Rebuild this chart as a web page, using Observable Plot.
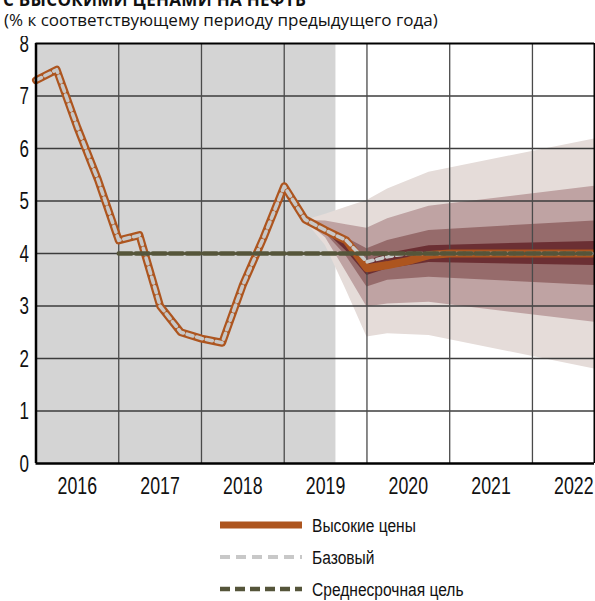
<!DOCTYPE html>
<html>
<head>
<meta charset="utf-8">
<script src="https://cdn.jsdelivr.net/npm/d3@7"></script>
<script src="https://cdn.jsdelivr.net/npm/@observablehq/plot@0.6"></script>
<style>
  html, body { margin: 0; padding: 0; background: #fff; }
  body { width: 595px; height: 601px; overflow: hidden; position: relative; }
  #head { position: absolute; left: 0; top: 0; }
  #chart { position: absolute; left: 0; top: 36px; }
  #legend { position: absolute; left: 0; top: 505px; }
</style>
</head>
<body>
<svg id="head" width="595" height="34"></svg>
<div id="chart"></div>
<svg id="legend" width="595" height="96"></svg>
<script>
// ---- data ----
const titleText = "С ВЫСОКИМИ ЦЕНАМИ НА НЕФТЬ";
const subtitleText = "(% к соответствующему периоду предыдущего года)";
const years = [2016, 2017, 2018, 2019, 2020, 2021, 2022];
const yTicks = [0, 1, 2, 3, 4, 5, 6, 7, 8];
const yearBounds = [4, 8, 12, 16, 20, 24];   // quarter index of Q1 of each year
const historyEnd = 14.5;                     // end of shaded actual-data period (quarter index)

// quarterly values, quarter index 0 = Q1 2016
const history = [7.3, 7.5, 6.4, 5.4, 4.25, 4.35, 3.0, 2.5, 2.38, 2.3, 3.4, 4.3, 5.28, 4.65, 4.44, 4.25];
const highPrices = [3.72, 3.78, 3.86, 3.97, 4.0, 4.0, 4.0, 4.0, 4.0, 4.0, 4.0, 4.0];   // k = 16..27
const baseline   = [3.84, 3.94, 4.0, 4.0, 4.0, 4.0, 4.0, 4.0, 4.0, 4.0, 4.0, 4.0];     // k = 16..27
const target = 4;
const targetStart = 4;

// fan chart: band boundaries at quarter indices
const fanK = [13, 14, 15, 16, 17, 19, 27];
const band4Hi = [4.63, 4.75, 4.88, 5.01, 5.23, 5.55, 6.18];
const band4Lo = [4.63, 4.15, 3.30, 2.41, 2.47, 2.44, 1.80];
const band3Hi = [4.63, 4.62, 4.55, 4.48, 4.66, 4.90, 5.28];
const band3Lo = [4.63, 4.30, 3.65, 2.98, 3.04, 3.07, 2.69];
const band2Hi = [4.63, 4.50, 4.30, 4.09, 4.25, 4.44, 4.62];
const band2Lo = [4.63, 4.38, 3.95, 3.36, 3.49, 3.55, 3.39];
const band1Hi = [4.63, 4.46, 4.20, 3.85, 4.00, 4.15, 4.23];
const band1Lo = [4.63, 4.42, 4.05, 3.58, 3.71, 3.83, 3.77];

const legendItems = ["Высокие цены", "Базовый", "Среднесрочная цель"];

// ---- colors ----
const cOrange = "#ad551f", cBase = "#c8c8c8", cTarget = "#55553a";
const bandColors = ["#6b2f33", "#966b6b", "#bfa3a3", "#e5dcd9"];

// ---- build tables ----
const nHist = history.length;
const highSeries = history.map((v, k) => ({k, v})).concat(highPrices.map((v, i) => ({k: nHist + i, v})));
const baseSeries = history.map((v, k) => ({k, v})).concat(baseline.map((v, i) => ({k: nHist + i, v})));
const lastK = highSeries[highSeries.length - 1].k;
const targetSeries = [{k: targetStart, v: target}, {k: lastK, v: target}];
const bands = [
  [band4Lo, band4Hi, bandColors[3]],
  [band3Lo, band3Hi, bandColors[2]],
  [band2Lo, band2Hi, bandColors[1]],
  [band1Lo, band1Hi, bandColors[0]]
];
const fanMarks = bands.map(([lo, hi, color]) =>
  Plot.areaY(fanK.map((k, i) => ({k, lo: lo[i], hi: hi[i]})), {x: "k", y1: "lo", y2: "hi", fill: color})
);
const yearRows = years.map((y, i) => ({label: String(y), k: i * 4 + 2}));

const font = "'Liberation Sans', Arial, sans-serif";

// horizontally condense svg texts (no condensed font installed)
function squeeze(root, sx) {
  root.querySelectorAll("text").forEach(t => {
    const tr = t.getAttribute("transform");
    if (tr) {
      t.setAttribute("transform", `${tr} scale(${sx},1)`);
    } else {
      const x = +t.getAttribute("x") || 0, y = +t.getAttribute("y") || 0;
      t.setAttribute("x", 0); t.setAttribute("y", 0);
      t.setAttribute("transform", `translate(${x},${y}) scale(${sx},1)`);
    }
  });
}

const chart = Plot.plot({
  width: 595,
  height: 469,
  marginTop: 7,
  marginLeft: 35.5,
  marginRight: 1,
  marginBottom: 42,
  x: {domain: [0, lastK], axis: null},
  y: {domain: [0, 8], axis: null},
  style: {fontFamily: font, background: "white", color: "#111"},
  marks: [
    Plot.rect([{a: 0, b: historyEnd}], {x1: "a", x2: "b", y1: 0, y2: 8, fill: "#d4d4d4"}),
    ...fanMarks,
    Plot.ruleY(yTicks.filter(d => d > 0 && d < 8), {stroke: "#3c3c3c", strokeWidth: 1.3}),
    Plot.ruleX(yearBounds, {stroke: "#4a4a4a", strokeWidth: 1.3}),
    Plot.line(highSeries, {x: "k", y: "v", stroke: cOrange, strokeWidth: 8, strokeLinejoin: "round"}),
    Plot.line(baseSeries, {x: "k", y: "v", stroke: cBase, strokeWidth: 3.6, strokeDasharray: "6,4", strokeLinejoin: "round"}),
    Plot.line(targetSeries, {x: "k", y: "v", stroke: cTarget, strokeWidth: 4.5, strokeDasharray: "13,4"}),
    Plot.ruleY([0], {stroke: "#000", strokeWidth: 2.5}),
    Plot.ruleY([8], {stroke: "#000", strokeWidth: 2}),
    Plot.ruleX([0], {stroke: "#000", strokeWidth: 2.5}),
    Plot.ruleX([lastK], {stroke: "#000", strokeWidth: 2}),
    Plot.text(yTicks, {x: 0, y: d => d, text: d => String(d), dx: -7, dy: 1, textAnchor: "end", fontSize: 23, fill: "#111"}),
    Plot.text(yearRows, {x: "k", y: 0, text: "label", dy: 23, fontSize: 24, fill: "#111"})
  ]
});
squeeze(chart, 0.74);
document.getElementById("chart").appendChild(chart);

// ---- header ----
const head = d3.select("#head");
head.append("text").attr("x", 3).attr("y", 6).attr("font-family", "'Open Sans', sans-serif")
  .attr("font-weight", 700).attr("font-size", 17).attr("letter-spacing", 0.3).attr("fill", "#111").text(titleText);
head.append("text").attr("x", 4).attr("y", 25.5).attr("font-family", "'Open Sans', sans-serif")
  .attr("font-size", 17).attr("fill", "#111").text(subtitleText);

// ---- legend ----
const leg = d3.select("#legend");
const styles = [
  {stroke: cOrange, w: 7, dash: null},
  {stroke: cBase, w: 4, dash: "10,6"},
  {stroke: cTarget, w: 4.5, dash: "10,5"}
];
legendItems.forEach((t, i) => {
  const cy = 20 + i * 32;
  const s = styles[i];
  const ln = leg.append("line").attr("x1", 220).attr("x2", 302).attr("y1", cy).attr("y2", cy)
    .attr("stroke", s.stroke).attr("stroke-width", s.w);
  if (s.dash) ln.attr("stroke-dasharray", s.dash);
  leg.append("text").attr("x", 312).attr("y", cy + 7)
    .attr("font-family", font).attr("font-size", 19).attr("fill", "#111").text(t);
});
squeeze(document.getElementById("legend"), 0.82);
</script>
</body>
</html>
